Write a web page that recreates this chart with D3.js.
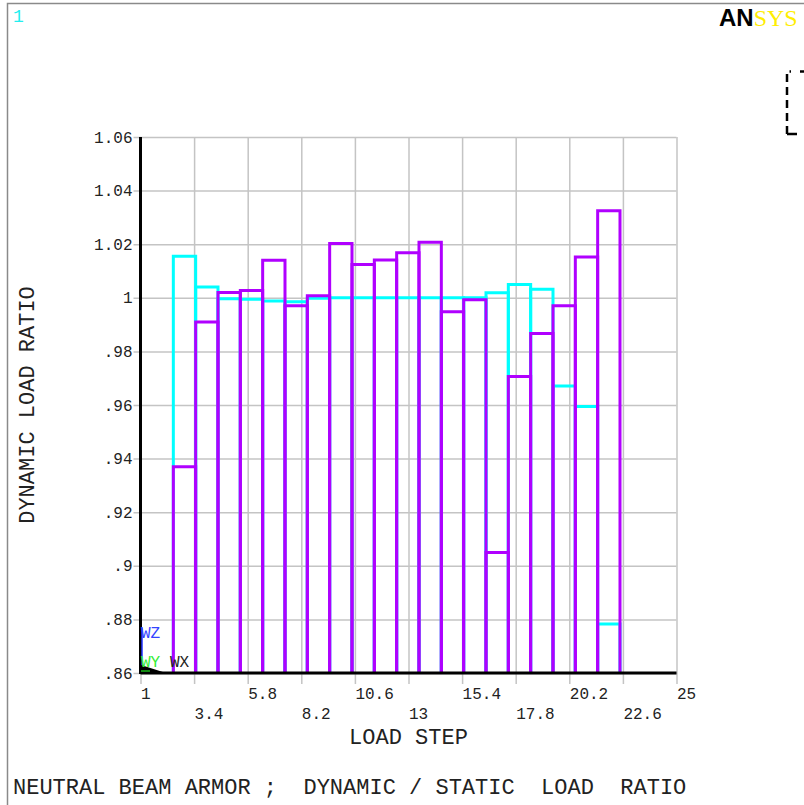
<!DOCTYPE html>
<html>
<head>
<meta charset="utf-8">
<script src="https://cdn.jsdelivr.net/npm/d3@7"></script>
<style>
  html, body { margin: 0; padding: 0; background: #fff; }
  svg { display: block; }
  text { font-family: "Liberation Mono", "Courier New", monospace; }
</style>
</head>
<body>
<div id="chart"></div>
<script>
// ---- data ----
const barStart = [2.47, 3.47, 4.47, 5.47, 6.47, 7.47, 8.47, 9.47, 10.47, 11.47,
                  12.47, 13.47, 14.47, 15.47, 16.47, 17.47, 18.47, 19.47, 20.47, 21.47];
const cyanSeries = [1.0155, 1.004, 0.9996, 0.9995, 0.9988, 0.9985, 0.9998, 1.0, 1.0, 1.0,
                    1.0, 1.0, 1.0, 1.0, 1.0019, 1.005, 1.0032, 0.9671, 0.9594, 0.8783];
const purpleSeries = [0.937, 0.991, 1.002, 1.0027, 1.014, 0.997, 1.0008, 1.0203, 1.0124, 1.0141,
                      1.0168, 1.0207, 0.9948, 0.9993, 0.905, 0.9706, 0.9867, 0.997, 1.0152, 1.0325];
const xTicks = [1, 3.4, 5.8, 8.2, 10.6, 13, 15.4, 17.8, 20.2, 22.6, 25];
const xTickLabels = ["1", "3.4", "5.8", "8.2", "10.6", "13", "15.4", "17.8", "20.2", "22.6", "25"];
const yTicks = [1.06, 1.04, 1.02, 1.0, 0.98, 0.96, 0.94, 0.92, 0.9, 0.88, 0.86];
const yTickLabels = ["1.06", "1.04", "1.02", "1", ".98", ".96", ".94", ".92", ".9", ".88", ".86"];
const barWidth = 1;

(function () {
// ---- layout ----
const W = 804, H = 805;
const pLeft = 140.5, pRight = 676.5, pTop = 137, pBottom = 673;

const svg = d3.select("#chart").append("svg").attr("width", W).attr("height", H);

// frame
svg.append("path").attr("d", `M7.5,${H} V3.5 H${W}`).attr("fill", "none")
  .attr("stroke", "#8a8a8a").attr("stroke-width", 1.5);

const x = d3.scaleLinear().domain([1, 25]).range([pLeft, pRight]);
const y = d3.scaleLinear().domain([0.86, 1.06]).range([pBottom, pTop]);

// y grid + labels
const gy = svg.append("g").attr("transform", `translate(${pLeft},0)`)
  .call(d3.axisLeft(y).tickValues(yTicks).tickSize(-(pRight - pLeft)).tickSizeOuter(0)
    .tickFormat((d, i) => yTickLabels[i]));
gy.select(".domain").remove();
gy.selectAll(".tick line").attr("x1", -7).attr("stroke", "#c4c4c4").attr("stroke-width", 1.5);
gy.selectAll(".tick text").attr("x", -8).attr("dy", "0.32em")
  .attr("font-size", 16).attr("fill", "#222")
  .style("font-family", '"Liberation Mono", monospace');

// x grid + labels
const gx = svg.append("g").attr("transform", `translate(0,${pBottom})`)
  .call(d3.axisBottom(x).tickValues(xTicks).tickSize(-(pBottom - pTop)).tickSizeOuter(0)
    .tickFormat((d, i) => xTickLabels[i]));
gx.select(".domain").remove();
gx.selectAll(".tick line").attr("y1", 11).attr("stroke", "#c4c4c4").attr("stroke-width", 1.5);
gx.selectAll(".tick text").attr("text-anchor", "start").attr("x", 0)
  .attr("y", (d, i) => i % 2 === 0 ? 26 : 46).attr("dy", 0)
  .attr("font-size", 16).attr("fill", "#222")
  .style("font-family", '"Liberation Mono", monospace');

// bars
function barPath(s, v) {
  const x0 = x(s), x1 = x(s + barWidth), yv = y(v), yb = y(0.86);
  return `M${x0},${yb} V${yv} H${x1} V${yb}`;
}
svg.append("g").selectAll("path").data(cyanSeries).join("path")
  .attr("d", (v, i) => barPath(barStart[i], v))
  .attr("fill", "none").attr("stroke", "#00ffff").attr("stroke-width", 3);
svg.append("g").selectAll("path").data(purpleSeries).join("path")
  .attr("d", (v, i) => barPath(barStart[i], v))
  .attr("fill", "none").attr("stroke", "#b000ff").attr("stroke-width", 3);

// axes lines
svg.append("line").attr("x1", pLeft).attr("x2", pLeft).attr("y1", pTop).attr("y2", pBottom + 1)
  .attr("stroke", "#000").attr("stroke-width", 3);
svg.append("line").attr("x1", pLeft).attr("x2", pRight).attr("y1", pBottom).attr("y2", pBottom)
  .attr("stroke", "#000").attr("stroke-width", 3);

// triad
svg.append("line").attr("x1", 142).attr("x2", 142).attr("y1", 628).attr("y2", 672)
  .attr("stroke", "#2233ff").attr("stroke-width", 1.5);
svg.append("path").attr("d", "M141,665 L166,673 L141,673 Z").attr("fill", "#000");
svg.append("line").attr("x1", 141).attr("x2", 150).attr("y1", 671).attr("y2", 671)
  .attr("stroke", "#118811").attr("stroke-width", 2);
svg.append("text").attr("x", 141).attr("y", 638).attr("font-size", 16).attr("fill", "#3344ff").text("WZ");
svg.append("text").attr("x", 141).attr("y", 667).attr("font-size", 16).attr("fill", "#33ee33").text("WY");
svg.append("text").attr("x", 170).attr("y", 667).attr("font-size", 16).attr("fill", "#222").text("WX");

// axis titles
svg.append("text").attr("x", (pLeft + pRight) / 2).attr("y", 744).attr("text-anchor", "middle")
  .attr("font-size", 22).attr("fill", "#222").text("LOAD STEP");
svg.append("text").attr("transform", "translate(34,405) rotate(-90)").attr("text-anchor", "middle")
  .attr("font-size", 22).attr("fill", "#222").text("DYNAMIC LOAD RATIO");

// footer title
svg.append("text").attr("x", 13).attr("y", 794).attr("font-size", 22).attr("fill", "#222")
  .style("white-space", "pre")
  .text("NEUTRAL BEAM ARMOR ;  DYNAMIC / STATIC  LOAD  RATIO");

// window number
svg.append("text").attr("x", 13).attr("y", 22).attr("font-size", 18).attr("fill", "#22eeee").text("1");

// ANSYS logo
const logo = svg.append("text").attr("x", 719).attr("y", 26).attr("font-size", 24);
logo.append("tspan").attr("font-weight", "bold").attr("fill", "#000")
  .style("font-family", '"Liberation Sans Narrow", "Liberation Sans", sans-serif').text("AN");
logo.append("tspan").attr("fill", "#ffee00")
  .style("font-family", '"Liberation Serif", serif').text("SYS");

// dashed legend box fragment
svg.append("path").attr("d", "M787,134 V71.5 H791").attr("fill", "none")
  .attr("stroke", "#000").attr("stroke-width", 2.5).attr("stroke-dasharray", "8,5");
svg.append("line").attr("x1", 800).attr("x2", 806).attr("y1", 71.5).attr("y2", 71.5)
  .attr("stroke", "#000").attr("stroke-width", 2.5);
svg.append("line").attr("x1", 787).attr("x2", 797).attr("y1", 134).attr("y2", 134)
  .attr("stroke", "#000").attr("stroke-width", 2.5);
})();
</script>
</body>
</html>
